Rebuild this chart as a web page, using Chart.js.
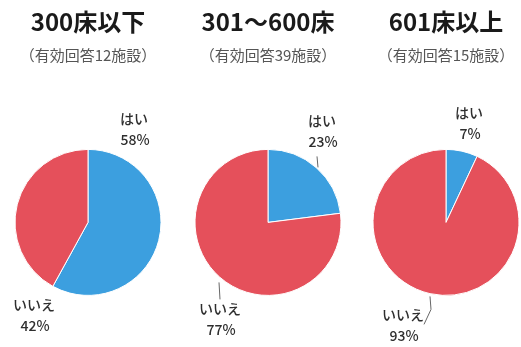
<!DOCTYPE html>
<html>
<head>
<meta charset="utf-8">
<script src="https://cdn.jsdelivr.net/npm/chart.js@4"></script>
<style>
  body { margin: 0; background: #fff; width: 521px; height: 347px; position: relative; overflow: hidden; }
  canvas { position: absolute; top: 0; }
</style>
</head>
<body>
<canvas id="c0" width="176" height="347" style="left:0px"></canvas>
<canvas id="c1" width="180" height="347" style="left:178px"></canvas>
<canvas id="c2" width="150" height="347" style="left:371px"></canvas>
<script>
// chart data
const groups = ['300床以下', '301～600床', '601床以上'];
const respondents = ['（有効回答12施設）', '（有効回答39施設）', '（有効回答15施設）'];
const answers = ['はい', 'いいえ'];
const yesPct = [58, 23, 7];
const noPct = [42, 77, 93];

const colors = ['#3c9fdf', '#e5505b'];
const FONT = '"Noto Sans CJK JP", "Noto Sans", sans-serif';

// where the text labels sit, relative to the pie centre (name line, pct line below)
const labelPos = [
  [{ dx: 46, dy: -104 }, { dx: -54, dy: 82 }],
  [{ dx: 54, dy: -102 }, { dx: -48, dy: 86 }],
  [{ dx: 23, dy: -110 }, { dx: -43, dy: 92 }]
];
// leader lines, relative to the pie centre
const leaders = [
  [],
  [[[49, -66], [50, -55]], [[-49, 60], [-48, 77]]],
  [[[-16, 74], [-15, 87], [-22, 102]]]
];

const sliceLabels = {
  id: 'sliceLabels',
  afterDatasetsDraw(chart, args, opts) {
    const i = opts.index;
    const arc = chart.getDatasetMeta(0).data[0];
    const cx = arc.x, cy = arc.y;
    const ctx = chart.ctx;
    ctx.save();
    ctx.strokeStyle = '#666';
    ctx.lineWidth = 1;
    leaders[i].forEach(pts => {
      ctx.beginPath();
      pts.forEach((p, k) => k ? ctx.lineTo(cx + p[0], cy + p[1]) : ctx.moveTo(cx + p[0], cy + p[1]));
      ctx.stroke();
    });
    ctx.fillStyle = '#2e2e2e';
    ctx.textAlign = 'center';
    ctx.textBaseline = 'middle';
    ctx.font = '500 14px ' + FONT;
    const vals = [yesPct[i], noPct[i]];
    answers.forEach((a, k) => {
      const p = labelPos[i][k];
      ctx.fillText(a, cx + p.dx, cy + p.dy);
      ctx.fillText(vals[k] + '%', cx + p.dx + 1, cy + p.dy + 21);
    });
    ctx.restore();
  }
};

groups.forEach((g, i) => {
  new Chart(document.getElementById('c' + i), {
    type: 'pie',
    data: {
      labels: answers,
      datasets: [{
        data: [yesPct[i], noPct[i]],
        backgroundColor: colors,
        borderColor: '#ffffff',
        borderWidth: 1,
        radius: 73
      }]
    },
    options: {
      responsive: false,
      animation: false,
      layout: { padding: { left: 0, right: 0, top: 0, bottom: 20 } },
      plugins: {
        legend: { display: false },
        tooltip: { enabled: false },
        title: {
          display: true,
          text: g,
          color: '#1a1a1a',
          font: { family: FONT, size: 24, weight: 'bold', lineHeight: 1.2 },
          padding: { top: 7, bottom: 3 }
        },
        subtitle: {
          display: true,
          text: respondents[i],
          color: '#555',
          font: { family: FONT, size: 15, lineHeight: 1.2 },
          padding: { top: 7, bottom: 54 }
        },
        sliceLabels: { index: i }
      }
    },
    plugins: [sliceLabels]
  });
});
</script>
</body>
</html>
